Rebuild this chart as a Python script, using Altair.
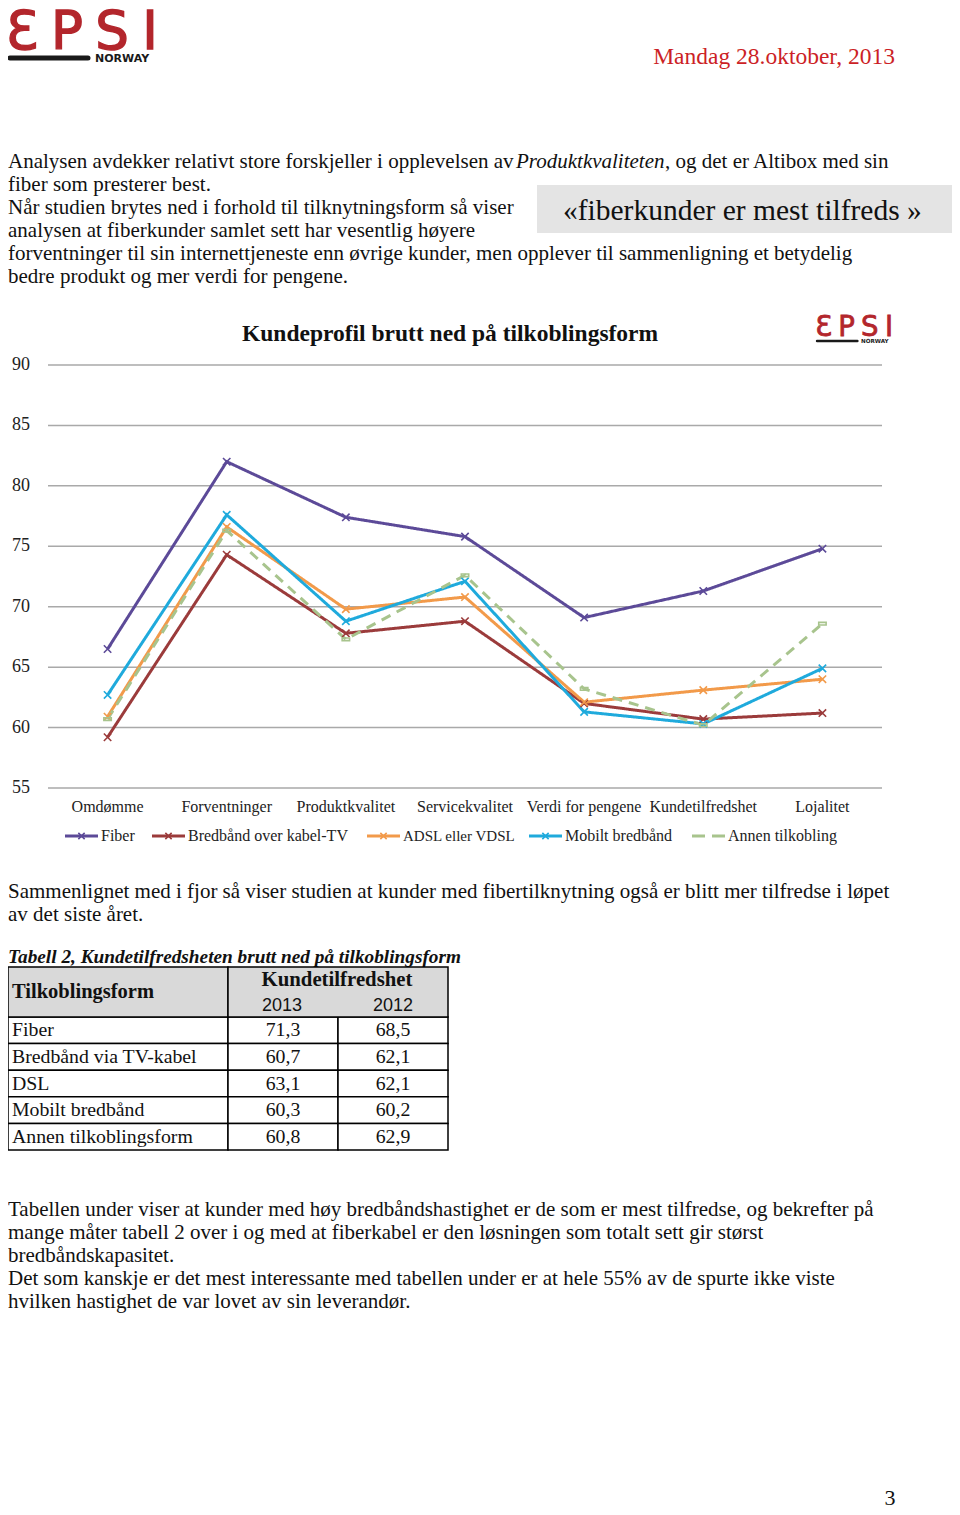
import altair as alt
import pandas as pd

# ---------------- data ----------------
categories = ["Omdømme", "Forventninger", "Produktkvalitet", "Servicekvalitet",
              "Verdi for pengene", "Kundetilfredshet", "Lojalitet"]
series_names = ["Fiber", "Bredbånd over kabel-TV", "ADSL eller VDSL",
                "Mobilt bredbånd", "Annen tilkobling"]
fiber = [66.5, 82.0, 77.4, 75.8, 69.1, 71.3, 74.8]
kabel_tv = [59.2, 74.3, 67.8, 68.8, 62.0, 60.7, 61.2]
adsl = [60.9, 76.6, 69.8, 70.8, 62.1, 63.1, 64.0]
mobilt = [62.7, 77.6, 68.8, 72.1, 61.3, 60.3, 64.9]
annen = [60.7, 76.3, 67.3, 72.6, 63.2, 60.2, 68.6]
y_ticks = [55, 60, 65, 70, 75, 80, 85, 90]

table_rows = ["Fiber", "Bredbånd via TV-kabel", "DSL", "Mobilt bredbånd",
              "Annen tilkoblingsform"]
tab_2013 = [71.3, 60.7, 63.1, 60.3, 60.8]
tab_2012 = [68.5, 62.1, 62.1, 60.2, 62.9]

# ---------------- styles ----------------
SERIF = "Liberation Serif"
SANS = "Liberation Sans"
INK = "#111111"
RED = "#b3262c"
BODY = 21
series_colors = ["#5c4a98", "#9b3b3b", "#f29a4a", "#1faadc", "#a8c48d"]
series_dash = [[1, 0], [1, 0], [1, 0], [1, 0], [10, 7]]
XPATH = "M-1,-1L1,1M-1,1L1,-1"
BARPATH = "M-1,-0.35L1,-0.35L1,0.35L-1,0.35Z"


def one():
    return pd.DataFrame({"t": [""]})


def txt(s, x, y, size=BODY, font=SERIF, color=INK, align="left",
        baseline="alphabetic", **kw):
    return alt.Chart(pd.DataFrame({"t": [s]})).mark_text(
        align=align, baseline=baseline, font=font, fontSize=size,
        color=color, **kw
    ).encode(x=alt.value(x), y=alt.value(y), text="t:N")


def logo(ox, oy, s, fs, sw):
    L = []
    for ch, cx in zip(["Ɛ", "P", "S", "I"], [22, 67, 112, 150]):
        L.append(txt(ch, ox + cx * s, oy + 49 * s, size=fs,
                     font="DejaVu Sans", color=RED, align="center",
                     stroke=RED, strokeWidth=sw))
    L.append(alt.Chart(one()).mark_rule(
        color="#1a1a1a", strokeWidth=5 * s, strokeCap="round"
    ).encode(x=alt.value(max(ox + 9 * s, 2)), x2=alt.value(ox + 88 * s),
             y=alt.value(oy + 58 * s)))
    L.append(txt("NORWAY", ox + 95 * s, oy + 58.5 * s, size=11 * s,
                 font="DejaVu Sans", fontWeight="bold", baseline="middle",
                 color="#1a1a1a"))
    return L


layers = []

# ---------------- header ----------------
layers += logo(-8, -8, 1.0, 53, 1.4)
layers.append(txt("Mandag 28.oktober, 2013", 887, 56, size=23.5,
                  color="#cc1f26", align="right"))

# ---------------- intro paragraph ----------------
layers.append(alt.Chart(one()).mark_rect(fill="#e4e4e4").encode(
    x=alt.value(529), x2=alt.value(944), y=alt.value(177), y2=alt.value(225)))
layers.append(txt("Analysen avdekker relativt store forskjeller i opplevelsen av",
                  0, 160))
layers.append(txt("Produktkvaliteten", 508, 160, fontStyle="italic"))
layers.append(txt(", og det er Altibox med sin", 657, 160))
layers.append(txt("fiber som presterer best.", 0, 183))
layers.append(txt("Når studien brytes ned i forhold til tilknytningsform så viser", 0, 206))
layers.append(txt("analysen at fiberkunder samlet sett har vesentlig høyere", 0, 229))
layers.append(txt("forventninger til sin internettjeneste enn øvrige kunder, men opplever til sammenligning et betydelig", 0, 252))
layers.append(txt("bedre produkt og mer verdi for pengene.", 0, 275))
layers.append(txt("«fiberkunder er mest tilfreds »", 555, 212, size=29.5))

# ---------------- line chart ----------------
XS = alt.Scale(type="point", domain=categories, range=[40, 874], padding=0.5)
YS = alt.Scale(domain=[55, 90], range=[780, 357], nice=False, zero=False)

layers.append(txt("Kundeprofil brutt ned på tilkoblingsform", 234, 333,
                  size=23.5, fontWeight="bold"))
layers += logo(804.5, 303.5, 0.51, 27.5, 0.8)

ticks_df = pd.DataFrame({"tick": y_ticks})
layers.append(alt.Chart(ticks_df).mark_rule(color="#a9a9a9", strokeWidth=1.5).encode(
    y=alt.Y("tick:Q", scale=YS, axis=None), x=alt.value(40), x2=alt.value(874)))
layers.append(alt.Chart(ticks_df).mark_text(
    align="left", baseline="middle", font=SERIF, fontSize=18, color="#222222"
).encode(y=alt.Y("tick:Q", scale=YS, axis=None), x=alt.value(4), text="tick:Q"))
layers.append(alt.Chart(pd.DataFrame({"cat": categories})).mark_text(
    align="center", baseline="middle", font=SERIF, fontSize=16, color="#222222"
).encode(x=alt.X("cat:N", scale=XS, sort=categories, axis=None),
         y=alt.value(799), text="cat:N"))

rows = []
for name, vals in zip(series_names, [fiber, kabel_tv, adsl, mobilt, annen]):
    for i, (c, v) in enumerate(zip(categories, vals)):
        rows.append({"series": name, "cat": c, "val": v, "i": i})
long_df = pd.DataFrame(rows)

enc = dict(
    x=alt.X("cat:N", scale=XS, sort=categories, axis=None),
    y=alt.Y("val:Q", scale=YS, axis=None),
    color=alt.Color("series:N", scale=alt.Scale(domain=series_names,
                                                range=series_colors), legend=None),
)
layers.append(alt.Chart(long_df).mark_line(strokeWidth=3).encode(
    **enc,
    strokeDash=alt.StrokeDash("series:N", scale=alt.Scale(domain=series_names,
                                                          range=series_dash), legend=None),
    order=alt.Order("i:Q"),
))
layers.append(alt.Chart(long_df).mark_point(filled=False, strokeWidth=1.6, size=55,
                                            opacity=1).encode(
    **enc,
    shape=alt.Shape("series:N", scale=alt.Scale(domain=series_names,
                                                range=[XPATH] * 4 + [BARPATH]), legend=None),
))

# manual legend
leg_sym = [(57, 90), (144, 177), (359, 392), (521, 554), (684, 717)]
leg_lab = [93, 180, 395, 557, 720]
leg_size = [16, 16, 15, 16, 16]
for k, name in enumerate(series_names):
    x1, x2 = leg_sym[k]
    dash = [13, 7] if k == 4 else [1, 0]
    layers.append(alt.Chart(one()).mark_rule(
        color=series_colors[k], strokeWidth=3, strokeDash=dash
    ).encode(x=alt.value(x1), x2=alt.value(x2), y=alt.value(828)))
    if k < 4:
        layers.append(alt.Chart(one()).mark_point(
            shape=XPATH, size=40, filled=False, strokeWidth=1.6,
            color=series_colors[k], opacity=1
        ).encode(x=alt.value((x1 + x2) / 2), y=alt.value(828)))
    layers.append(txt(name, leg_lab[k], 828, size=leg_size[k], baseline="middle",
                      color="#222222"))

# ---------------- text after chart ----------------
layers.append(txt("Sammenlignet med i fjor så viser studien at kunder med fibertilknytning også er blitt mer tilfredse i løpet", 0, 890))
layers.append(txt("av det siste året.", 0, 913))
layers.append(txt("Tabell 2, Kundetilfredsheten brutt ned på tilkoblingsform", 0, 955,
                  size=19.3, fontWeight="bold", fontStyle="italic"))

# ---------------- table ----------------
tab_df = pd.DataFrame({"name": table_rows, "v13": tab_2013, "v12": tab_2012})
TY = alt.Y("name:N", sort=table_rows, axis=None,
           scale=alt.Scale(domain=table_rows, range=[1009, 1142],
                           paddingInner=0, paddingOuter=0))
for (a, b) in [(0, 220), (220, 330), (330, 440)]:
    layers.append(alt.Chart(tab_df).mark_rect(
        fill="white", stroke="black", strokeWidth=1.5
    ).encode(x=alt.value(a), x2=alt.value(b), y=TY))
for (a, b) in [(0, 220), (220, 440)]:
    layers.append(alt.Chart(one()).mark_rect(
        fill="#d9d9d9", stroke="black", strokeWidth=1.5
    ).encode(x=alt.value(a), x2=alt.value(b), y=alt.value(959), y2=alt.value(1009)))
layers.append(txt("Tilkoblingsform", 4, 984, size=20.5, fontWeight="bold", baseline="middle"))
layers.append(txt("Kundetilfredshet", 329, 972, size=20.8, fontWeight="bold",
                  baseline="middle", align="center"))
layers.append(txt("2013", 274, 998, size=18, font=SANS, baseline="middle", align="center"))
layers.append(txt("2012", 385, 998, size=18, font=SANS, baseline="middle", align="center"))

fmt = alt.Chart(tab_df).transform_calculate(
    f13="replace(format(datum.v13, '.1f'), '.', ',')",
    f12="replace(format(datum.v12, '.1f'), '.', ',')",
)
for field, xpos, al in [("name", 4, "left"), ("f13", 275, "center"), ("f12", 385, "center")]:
    layers.append(fmt.mark_text(align=al, baseline="middle", font=SERIF,
                                fontSize=19.8, color=INK).encode(
        x=alt.value(xpos), y=TY, text=f"{field}:N"))

# ---------------- closing paragraph ----------------
closing = [
    "Tabellen under viser at kunder med høy bredbåndshastighet er de som er mest tilfredse, og bekrefter på",
    "mange måter tabell 2 over i og med at fiberkabel er den løsningen som totalt sett gir størst",
    "bredbåndskapasitet.",
    "Det som kanskje er det mest interessante med tabellen under er at hele 55% av de spurte ikke viste",
    "hvilken hastighet de var lovet av sin leverandør.",
]
for k, line in enumerate(closing):
    layers.append(txt(line, 0, 1208 + 23 * k))
layers.append(txt("3", 882, 1497, size=22, align="center"))

chart = alt.layer(*layers).resolve_scale(
    x="independent", y="independent", color="independent",
    strokeDash="independent", shape="independent"
).properties(
    width=944, height=1499, padding=0,
    autosize=alt.AutoSizeParams(type="none"),
).configure_view(stroke=None)

chart.save("out.html", embed_options={"renderer": "svg", "actions": False})
